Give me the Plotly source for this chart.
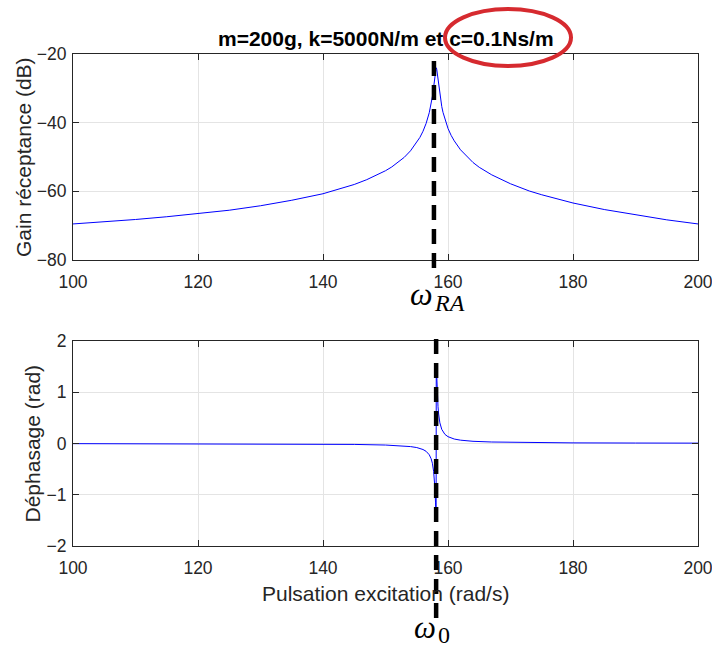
import plotly.graph_objects as go

# Receptance of the 1-dof oscillator (m=200 g, k=5000 N/m, c=0.1 Ns/m)
omega_gain = [100, 105, 110, 115, 120, 125, 130, 135, 140, 143, 145, 147, 149, 150,
              151, 152, 153, 154, 155, 155.5, 156, 156.5, 157, 157.2, 157.4, 157.5,
              157.6, 157.7, 157.8, 157.9, 158.0, 158.05, 158.1, 158.15, 158.2, 158.3,
              158.4, 158.5, 158.6, 158.7, 158.8, 159.0, 159.2, 159.5, 160, 160.5, 161,
              162, 163, 164, 165, 167, 170, 173, 175, 180, 185, 190, 195, 200]
gain_db = [-69.5, -68.9, -68.2, -67.4, -66.5, -65.5, -64.2, -62.6, -60.7, -59.2, -58.0,
           -56.6, -55.0, -54.0, -52.9, -51.6, -50.1, -48.2, -45.8, -44.3, -42.5, -40.2,
           -37.1, -35.5, -33.6, -32.4, -31.1, -29.7, -28.1, -26.4, -24.8, -24.2, -24.0,
           -24.1, -24.5, -25.9, -27.6, -29.3, -30.8, -32.1, -33.3, -35.3, -37.0, -39.0,
           -41.7, -43.7, -45.3, -47.9, -49.9, -51.6, -53.0, -55.2, -57.8, -59.9, -61.0,
           -63.4, -65.3, -66.9, -68.3, -69.5]

omega_phase = [100, 110, 120, 130, 140, 145, 150, 152, 153, 154, 155, 155.5, 156, 156.5,
               157, 157.3, 157.5, 157.7, 157.8, 157.9, 158.0, 158.05, 158.1, 158.12,
               158.15, 158.2, 158.3, 158.4, 158.5, 158.7, 159, 159.5, 160, 161, 162,
               164, 167, 170, 180, 190, 200]
phase_rad = [-0.003, -0.004, -0.006, -0.008, -0.013, -0.018, -0.030, -0.040, -0.048,
             -0.060, -0.079, -0.095, -0.117, -0.153, -0.220, -0.297, -0.386, -0.543,
             -0.672, -0.862, -1.143, -1.320, -1.515, 1.546, 1.428, 1.239, 0.931, 0.719,
             0.575, 0.403, 0.276, 0.179, 0.133, 0.087, 0.065, 0.043, 0.029, 0.022,
             0.012, 0.009, 0.007]

x_ticks = [100, 120, 140, 160, 180, 200]
gain_ticks = [-80, -60, -40, -20]
phase_ticks = [-2, -1, 0, 1, 2]

OMEGA_RA = 157.75   # amplitude-resonance pulsation marker
OMEGA_0 = 158.1     # natural pulsation marker

TITLE = "m=200g, k=5000N/m et c=0.1Ns/m"

W, H = 712, 647
ML, MR, MT, MB = 73, 14, 54, 101
PW, PH = W - ML - MR, H - MT - MB


def px(x):
    return (x - ML) / PW


def py(y):
    return (H - MB - y) / PH


INK = "#262626"
GRID = "#e4e4e4"
SANS = "Liberation Sans, Arial, sans-serif"
SERIF = "Liberation Serif, serif"

fig = go.Figure()
fig.add_trace(go.Scatter(x=omega_gain, y=gain_db, mode="lines",
                         line=dict(color="#0000ff", width=1),
                         xaxis="x", yaxis="y", showlegend=False))
fig.add_trace(go.Scatter(x=omega_phase, y=phase_rad, mode="lines",
                         line=dict(color="#0000ff", width=1),
                         xaxis="x2", yaxis="y2", showlegend=False))

axis_common = dict(showline=True, linecolor=INK, linewidth=1, mirror="ticks",
                   ticks="inside", ticklen=6, tickcolor=INK, tickwidth=1,
                   showgrid=True, gridcolor=GRID, gridwidth=1, zeroline=False,
                   ticklabeloverflow="allow", automargin=False,
                   tickfont=dict(family=SANS, size=17.5, color=INK))
x_extra = dict(ticklabelstandoff=6)
y_extra = dict(ticklabelstandoff=2)

top_dom = [py(260), 1.0]
bot_dom = [0.0, py(341)]

fig.update_layout(
    width=W, height=H, autosize=False,
    margin=dict(l=ML, r=MR, t=MT, b=MB, pad=0),
    paper_bgcolor="white", plot_bgcolor="white",
    xaxis=dict(domain=[0, 1], range=[100, 200], tickvals=x_ticks, anchor="y",
               **axis_common, **x_extra),
    yaxis=dict(domain=top_dom, range=[-80, -20], tickvals=gain_ticks, anchor="x",
               **axis_common, **y_extra),
    xaxis2=dict(domain=[0, 1], range=[100, 200], tickvals=x_ticks, anchor="y2",
                **axis_common, **x_extra),
    yaxis2=dict(domain=bot_dom, range=[-2, 2], tickvals=phase_ticks, anchor="x2",
                **axis_common, **y_extra),
)

dash = dict(color="black", width=4.5, dash="15px,9px")
fig.add_shape(type="line", xref="x", yref="paper", x0=OMEGA_RA, x1=OMEGA_RA,
              y0=py(268), y1=py(56), line=dash, layer="above")
fig.add_shape(type="line", xref="x2", yref="paper", x0=OMEGA_0, x1=OMEGA_0,
              y0=py(618), y1=py(332), line=dash, layer="above")

# red ring around the damping value in the title
fig.add_shape(type="circle", xref="paper", yref="paper",
              x0=px(445), x1=px(571), y0=py(66), y1=py(9),
              line=dict(color="#d62a2f", width=4), layer="above")

ann = [
    dict(text="<b>" + TITLE + "</b>", x=px(385.5), y=py(39), yanchor="middle",
         font=dict(family=SANS, size=21, color="black")),
    dict(text="Gain réceptance (dB)", x=px(23), y=py(157), textangle=-90, yanchor="middle",
         font=dict(family=SANS, size=21, color=INK)),
    dict(text="Déphasage (rad)", x=px(32), y=py(443.5), textangle=-90, yanchor="middle",
         font=dict(family=SANS, size=21, color=INK)),
    dict(text="Pulsation excitation (rad/s)", x=px(385), y=py(593), yanchor="middle",
         font=dict(family=SANS, size=21, color=INK)),
    dict(text="<i>ω</i>", x=px(421), y=py(294), yanchor="middle",
         font=dict(family=SERIF, size=32, color="black")),
    dict(text="<i>RA</i>", x=px(449), y=py(303), yanchor="middle",
         font=dict(family=SERIF, size=24, color="black")),
    dict(text="<i>ω</i>", x=px(425), y=py(647), yanchor="bottom",
         font=dict(family=SERIF, size=31, color="black")),
    dict(text="0", x=px(444), y=py(650), yanchor="bottom",
         font=dict(family=SERIF, size=24, color="black")),
]
for a in ann:
    fig.add_annotation(xref="paper", yref="paper", showarrow=False,
                       xanchor="center", **a)

fig.write_html("out.html")
